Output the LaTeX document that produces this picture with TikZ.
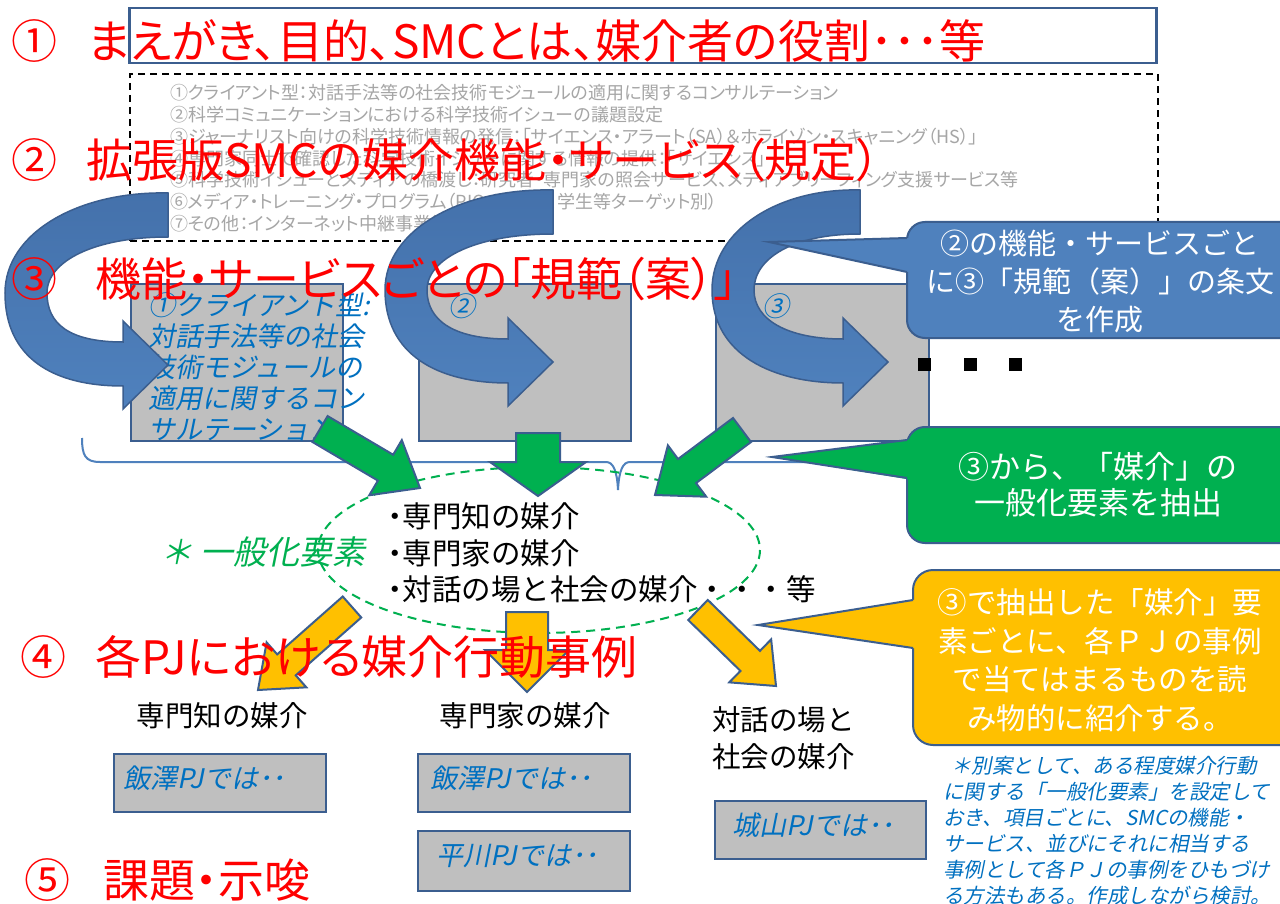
\documentclass[tikz,border=0pt]{standalone}
\usepackage{fontspec}
\usetikzlibrary{calc}
\newfontfamily\jp{Noto Sans CJK JP}
\newfontfamily\jpp[RawFeature=+palt]{Noto Sans CJK JP}
\newfontfamily\jpit[FakeSlant=0.2]{Noto Sans CJK JP}
\definecolor{cred}{HTML}{FF0000}
\definecolor{cgray}{HTML}{A6A6A6}
\definecolor{cblue}{HTML}{4F81BD}
\definecolor{cbluedark}{HTML}{4471AB}
\definecolor{cedge}{HTML}{3B5E8F}
\definecolor{cboxfill}{HTML}{BFBFBF}
\definecolor{cgreen}{HTML}{00B050}
\definecolor{corange}{HTML}{FFC000}
\definecolor{ctext}{HTML}{0070C0}
\tikzset{
  txt/.style={inner sep=0pt, outer sep=0pt},
  redtitle/.style={txt, anchor=west, text=cred, font=\jpp\fontsize{46}{50}\selectfont},
  graytxt/.style={txt, anchor=west, text=cgray, font=\jpp\fontsize{18}{20}\selectfont},
  graybox/.style={draw=cedge, fill=cboxfill, line width=2, anchor=north west, inner sep=0pt},
  boxtxt/.style={txt, anchor=west, text=ctext, font=\jpit\fontsize{27}{31}\selectfont},
  blacktxt/.style={txt, text=black, font=\jp\fontsize{28.5}{36.5}\selectfont},
  bluearrow/.style={top color=cbluedark, bottom color=cblue, draw=cedge, line width=1.5},
  greenarrow/.style={fill=cgreen, draw=cedge, line width=2, line join=miter},
  orangearrow/.style={fill=corange, draw=cedge, line width=2, line join=miter},
  calltext/.style={txt, text=white, align=center},
  sq/.style={fill=black, minimum size=13, inner sep=0pt},
}
\newcommand\curvarrow[4]{% Tx, Ty, W, Px
  \pgfmathsetmacro\hb{#4-45}
  \path[bluearrow] (#1,#2) .. controls ({#1-0.55*#3},{#2-2}) and ({#1-#3},{#2+40}) .. ({#1-#3},{#2+100})
    .. controls ({#1-#3},{#2+165}) and ({\hb-70},{#2+193}) .. (\hb,{#2+193})
    -- (\hb,{#2+216}) -- (#4,{#2+172}) -- (\hb,{#2+128}) -- (\hb,{#2+149})
    .. controls ({\hb-55},{#2+149}) and ({#1-#3+42},{#2+130}) .. ({#1-#3+42},{#2+100})
    .. controls ({#1-#3+42},{#2+68}) and ({#1-0.45*#3},{#2+44}) .. (#1,{#2+44}) -- cycle;}
\newcommand\blockarrow[6]{% style, from, to, s, h, L
  \coordinate (ba-h) at ($(#3)!#6!(#2)$);
  \draw[#1] ($(#2)!#4!90:(#3)$) -- ($(ba-h)!#4!-90:(#2)$) -- ($(ba-h)!#5!-90:(#2)$) -- (#3)
    -- ($(ba-h)!#5!90:(#2)$) -- ($(ba-h)!#4!90:(#2)$) -- ($(#2)!#4!-90:(#3)$) -- cycle;}
\begin{document}
\begin{tikzpicture}[x=1pt,y=-1pt]
\clip (0,0) rectangle (1280,904);
\fill[white] (0,0) rectangle (1280,904);

% dashed box with list
\node[draw=black, dash pattern=on 7pt off 5pt, line width=2, minimum width=1028, minimum height=167, anchor=north west, inner sep=0pt] (dbox) at (129,73) {};
\node[graytxt] (g1) at (170,93) {①クライアント型：対話手法等の社会技術モジュールの適用に関するコンサルテーション};
\node[graytxt] (g2) at (170,114.5) {②科学コミュニケーションにおける科学技術イシューの議題設定};
\node[graytxt] (g3) at (170,136.5) {③ジャーナリスト向けの科学技術情報の発信：「サイエンス・アラート（SA）＆ホライゾン・スキャニング（HS）」};
\node[graytxt] (g4) at (170,158.5) {④専門家同士で確認した科学技術イシューに関する情報の提供：「サイエンス」};
\node[graytxt] (g5) at (170,180) {⑤科学技術イシューとメディアの橋渡し：研究者・専門家の照会サービス、メディアブリーフィング支援サービス等};
\node[graytxt] (g6) at (170,202) {⑥メディア・トレーニング・プログラム（PIO、研究者、学生等ターゲット別）};
\node[graytxt] (g7) at (170,224) {⑦その他：インターネット中継事業等};

% top box
\node[draw=cedge, line width=2.5, minimum width=1027, minimum height=55, anchor=north west, inner sep=0pt] (topbox) at (128,7) {};

% row 3 boxes
\node[graybox, minimum width=212, minimum height=157] (b1) at (130,283) {};
\node[graybox, minimum width=212, minimum height=157] (b2) at (418,283) {};
\node[graybox, minimum width=213, minimum height=157] (b3) at (715,283) {};
\node[boxtxt, align=left] (b1t) at (148,367) {①クライアント型:\\対話手法等の社会\\技術モジュールの\\適用に関するコン\\サルテーション};
\node[boxtxt] (b2t) at (448,306) {②};
\node[boxtxt] (b3t) at (762,306) {③};

% brace line
\draw[cblue, line width=2] (82,438) .. controls (82,455) and (85,462) .. (100,462) -- (606,462)
  .. controls (613,462) and (617,470) .. (618,490) .. controls (619,470) and (623,462) .. (630,462)
  -- (990,462) .. controls (1000,462) and (1003,455) .. (1003,440);

% ellipse
\draw[cgreen, line width=2, dash pattern=on 9pt off 6pt] (539,550) ellipse [x radius=221, y radius=83];
\node[blacktxt, anchor=west, align=left, font=\jp\fontsize{29.5}{36.5}\selectfont] (el) at (388,553) {{\jpp ・}専門知の媒介\\{\jpp ・}専門家の媒介\\{\jpp ・}対話の場と社会の媒介・・・等};
\node[txt, anchor=west, text=cgreen, font=\jpit\fontsize{33}{36}\selectfont] (gen) at (160,552) {＊\hspace{8pt}一般化要素};

% green arrows
\coordinate (gA1) at (320,429); \coordinate (gA2) at (420,488);
\coordinate (gB1) at (538,433); \coordinate (gB2) at (538,496);
\coordinate (gC1) at (742,430); \coordinate (gC2) at (655,495);
\blockarrow{greenarrow}{gA1}{gA2}{15pt}{32pt}{40pt}
\blockarrow{greenarrow}{gB1}{gB2}{22pt}{48pt}{34pt}
\blockarrow{greenarrow}{gC1}{gC2}{15pt}{32pt}{40pt}

% blue curved arrows
\curvarrow{168}{193}{163}{168}
\curvarrow{553}{190}{168}{553}
\curvarrow{860}{190}{148}{888}

% blue callout
\draw[fill=cblue, draw=cedge, line width=2, rounded corners=18] (907,222) rectangle (1300,338);
\fill[cblue] (769,242) -- (913,238) -- (913,273) -- cycle;
\draw[cedge, line width=2] (907,238) -- (769,242) -- (907,272);
\node[calltext, font=\jp\fontsize{29}{38}\selectfont] (cb) at (1100,281) {②の機能・サービスごと\\に③「規範（案）」の条文\\を作成};

% green callout
\draw[fill=cgreen, draw=cedge, line width=2, rounded corners=18] (907,427) rectangle (1300,543);
\fill[cgreen] (772,457) -- (913,439) -- (913,480) -- cycle;
\draw[cedge, line width=2] (907,440) -- (772,457) -- (907,478);
\node[calltext, font=\jp\fontsize{31}{36}\selectfont] (cg) at (1098,485) {③から、「媒介」の\\一般化要素を抽出};

% orange callout
\draw[fill=corange, draw=cedge, line width=2, rounded corners=20] (913,570) rectangle (1300,745);
\fill[corange] (758,625) -- (919,599) -- (919,649) -- cycle;
\draw[cedge, line width=2] (913,600) -- (758,625) -- (913,648);
\node[calltext, font=\jp\fontsize{29.5}{38.5}\selectfont] (co) at (1100,660) {③で抽出した「媒介」要\\素ごとに、各ＰＪの事例\\で当てはまるものを読\\み物的に紹介する。};

% squares
\node[sq] (sq1) at (924,364) {};
\node[sq] (sq2) at (970,364) {};
\node[sq] (sq3) at (1015,364) {};

% orange arrows
\coordinate (oD1) at (352,607); \coordinate (oD2) at (258,690);
\coordinate (oE1) at (527,612); \coordinate (oE2) at (527,692);
\coordinate (oF1) at (698,610); \coordinate (oF2) at (776,686);
\blockarrow{orangearrow}{oD1}{oD2}{14pt}{30pt}{38pt}
\blockarrow{orangearrow}{oE1}{oE2}{21pt}{42pt}{42pt}
\blockarrow{orangearrow}{oF1}{oF2}{14pt}{30pt}{36pt}

% row 4 headings
\node[blacktxt] (h1) at (222,716) {専門知の媒介};
\node[blacktxt] (h2) at (525,716) {専門家の媒介};
\node[blacktxt, anchor=west, align=left] (h3) at (712,738) {対話の場と\\社会の媒介};

% bottom boxes
\node[graybox, minimum width=212, minimum height=58] (p1) at (113,753) {};
\node[graybox, minimum width=212, minimum height=58] (p2) at (417,753) {};
\node[graybox, minimum width=212, minimum height=60] (p3) at (417,830) {};
\node[graybox, minimum width=211, minimum height=58] (p4) at (714,800) {};
\node[boxtxt] (p1t) at (123,778) {飯澤PJでは･･};
\node[boxtxt] (p2t) at (430,778) {飯澤PJでは･･};
\node[boxtxt] (p3t) at (436,856) {平川PJでは･･};
\node[boxtxt] (p4t) at (732,825) {城山PJでは･･};

% note
\node[txt, anchor=west, align=left, text=ctext, font=\jpit\fontsize{20.5}{26}\selectfont] (note) at (943,831) {\hspace{8pt}＊別案として、ある程度媒介行動\\に関する「一般化要素」を設定して\\おき、項目ごとに、SMCの機能・\\サービス、並びにそれに相当する\\事例として各ＰＪの事例をひもづけ\\る方法もある。作成しながら検討。};

% red titles
\node[redtitle] (n1) at (12,41) {①};
\node[redtitle] (t1) at (88,41) {まえがき、目的、SMCとは、媒介者の役割･･･等};
\node[redtitle] (n2) at (12,160) {②};
\node[redtitle] (t2) at (86,160) {拡張版SMCの媒介機能・サービス（規定）};
\node[redtitle] (n3) at (12,279) {③};
\node[redtitle] (t3) at (95,279) {機能・サービスごとの「規範（案）」};
\node[redtitle] (n4) at (20,657) {④};
\node[redtitle] (t4) at (95,657) {各PJにおける媒介行動事例};
\node[redtitle] (n5) at (24,880) {⑤};
\node[redtitle] (t5) at (103,880) {課題・示唆};
\end{tikzpicture}
\end{document}
